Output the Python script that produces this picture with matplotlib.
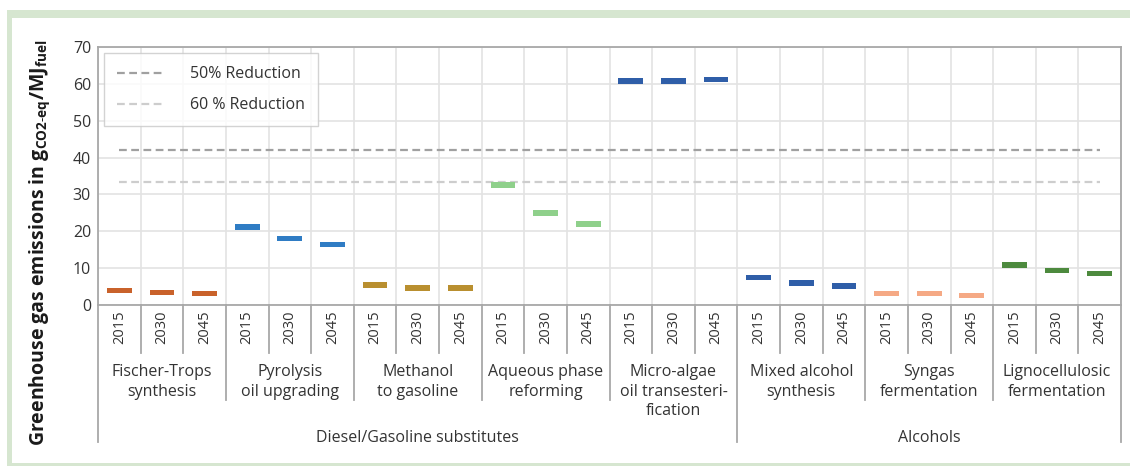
import matplotlib
matplotlib.use("Agg")
import matplotlib.pyplot as plt
from matplotlib.patches import Rectangle

plt.rcParams['font.family'] = ['Open Sans', 'DejaVu Sans']
plt.rcParams['mathtext.fontset'] = 'custom'
plt.rcParams['mathtext.rm'] = 'Open Sans'
plt.rcParams['mathtext.bf'] = 'Open Sans:bold'

# Data
years = ["2015", "2030", "2045"]
processes = ["Fischer-Trops\nsynthesis", "Pyrolysis\noil upgrading", "Methanol\nto gasoline",
             "Aqueous phase\nreforming", "Micro-algae\noil transesteri-\nfication",
             "Mixed alcohol\nsynthesis", "Syngas\nfermentation", "Lignocellulosic\nfermentation"]
fischer = [3.9, 3.4, 3.1]
pyrolysis = [21.1, 18.0, 16.4]
methanol = [5.4, 4.6, 4.6]
aqueous = [32.5, 25.0, 22.0]
microalgae = [60.8, 60.8, 61.2]
mixed_alcohol = [7.4, 5.9, 5.1]
syngas = [3.1, 3.1, 2.6]
ligno = [10.9, 9.3, 8.6]
series = [fischer, pyrolysis, methanol, aqueous, microalgae, mixed_alcohol, syngas, ligno]
colors = ["#c9622b", "#2f7cc4", "#b98f2f", "#8fd08b", "#2f5ea8", "#2f5ea8", "#f5a985", "#4d8a3e"]
families = ["Diesel/Gasoline substitutes", "Alcohols"]
family_sizes = [5, 3]
reduction_50 = 42.0
reduction_60 = 33.5

W, H = 1130, 466
fig = plt.figure(figsize=(W / 100, H / 100), dpi=100)

# green frame around the figure
fig.patches.append(Rectangle((7 / W, 0), 1, 1 - 10 / H, transform=fig.transFigure,
                             facecolor="#d6e6d0", edgecolor="none", zorder=-10))
fig.patches.append(Rectangle((12 / W, 3 / H), 1, 1 - 21 / H, transform=fig.transFigure,
                             facecolor="white", edgecolor="none", zorder=-9))

ax = fig.add_axes([98 / W, 1 - 305 / H, (1121 - 98) / W, (305 - 47) / H])
ax.set_facecolor("none")

n = len(years) * len(processes)
bar_h = 1.5
for i, (vals, c) in enumerate(zip(series, colors)):
    xs = [i * 3 + j for j in range(3)]
    ax.bar(xs, [bar_h] * 3, bottom=[v - bar_h / 2 for v in vals], width=0.58,
           color=c, zorder=3)

ax.hlines(reduction_50, 0, n - 1, colors="#a0a0a0", linestyles=(0, (3.5, 2)), lw=1.6,
          label="50% Reduction", zorder=2)
ax.hlines(reduction_60, 0, n - 1, colors="#cdcdcd", linestyles=(0, (3.5, 2)), lw=1.6,
          label="60 % Reduction", zorder=2)

ax.set_xlim(-0.5, n - 0.5)
ax.set_ylim(0, 70)
ax.set_yticks(range(0, 71, 10))
ax.set_xticks(range(n))
ax.set_xticklabels(years * len(processes), rotation=90, fontsize=10.5, color="#333333")
ax.set_xticks([k - 0.5 for k in range(n + 1)], minor=True)
ax.tick_params(axis="x", which="both", length=0, pad=4)
ax.tick_params(axis="y", length=0, pad=5, labelsize=11.5, labelcolor="#333333")
ax.grid(True, axis="y", color="#e3e3e3", lw=1.2, zorder=0)
ax.grid(True, axis="x", which="minor", color="#e3e3e3", lw=1.2, zorder=0)
for s in ax.spines.values():
    s.set_color("#a8a8a8")
    s.set_linewidth(1.3)

# hierarchical x axis separators
tr = ax.get_xaxis_transform()
ah = 305 - 47
def ypx(p):
    return -(p - 305) / ah

for k in range(n + 1):
    xb = k - 0.5
    if k in (0, 15, 24):
        end = 442
    elif k % 3 == 0:
        end = 400
    else:
        end = 353
    ax.plot([xb, xb], [0, ypx(end)], transform=tr, color="#a8a8a8", lw=1.3,
            clip_on=False)

for i, p in enumerate(processes):
    ax.text(i * 3 + 1, ypx(364), p, transform=tr, ha="center", va="top",
            fontsize=11.5, color="#333333", linespacing=1.3)

start = 0
for fam, size in zip(families, family_sizes):
    mid = start * 3 + size * 3 / 2 - 0.5
    ax.text(mid, ypx(438), fam, transform=tr, ha="center", va="center",
            fontsize=11.5, color="#333333")
    start += size

leg = ax.legend(loc="upper left", bbox_to_anchor=(0.006, 0.975), fontsize=11.5,
                frameon=True, fancybox=False, handlelength=3.0, handletextpad=1.6,
                borderpad=0.8, labelspacing=0.95, borderaxespad=0)
leg.get_frame().set_edgecolor("#c8c8c8")
leg.get_frame().set_linewidth(1.0)
for t in leg.get_texts():
    t.set_color("#333333")

fig.text(40 / W, 1 - 243 / H,
         r"Greenhouse gas emissions in g$_{\mathbf{CO2\text{-}eq}}$/MJ$_{\mathbf{fuel}}$",
         rotation=90, ha="center", va="center", fontsize=14, fontweight="bold",
         color="#1a1a1a")

fig.savefig("out.png", dpi=100)
